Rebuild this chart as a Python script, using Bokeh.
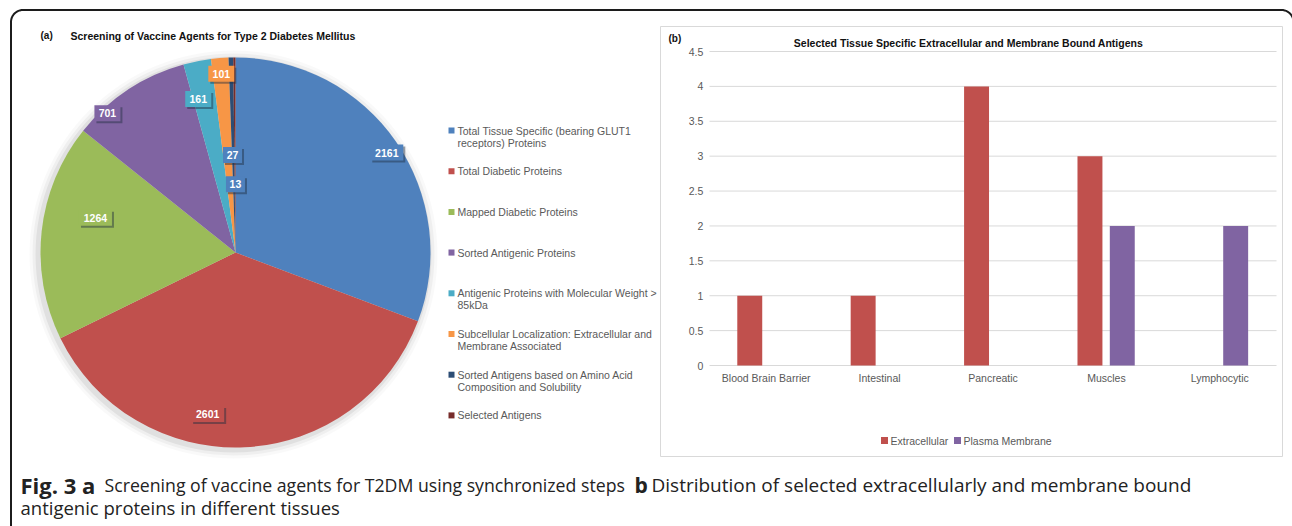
import math
import textwrap
from bokeh.plotting import figure
from bokeh.models import ColumnDataSource, Range1d
from bokeh.core.properties import value
from bokeh.embed import file_html
from bokeh.resources import INLINE

# ---------------- data ----------------
pie_title = "Screening of Vaccine Agents for Type 2 Diabetes Mellitus"
pie_categories = [
    "Total Tissue Specific (bearing GLUT1 receptors) Proteins",
    "Total Diabetic Proteins",
    "Mapped Diabetic Proteins",
    "Sorted Antigenic Proteins",
    "Antigenic Proteins with Molecular Weight > 85kDa",
    "Subcellular Localization: Extracellular and Membrane Associated",
    "Sorted Antigens based on Amino Acid Composition and Solubility",
    "Selected Antigens",
]
pie_values = [2161, 2601, 1264, 701, 161, 101, 27, 13]

bar_title = "Selected Tissue Specific Extracellular and Membrane Bound Antigens"
tissues = ["Blood Brain Barrier", "Intestinal", "Pancreatic", "Muscles", "Lymphocytic"]
series_names = ["Extracellular", "Plasma Membrane"]
extracellular = [1, 1, 4, 3, 0]
plasma_membrane = [0, 0, 0, 2, 2]
y_ticks = [0, 0.5, 1, 1.5, 2, 2.5, 3, 3.5, 4, 4.5]
y_tick_labels = ["0", "0.5", "1", "1.5", "2", "2.5", "3", "3.5", "4", "4.5"]

caption_parts = [
    ("Fig. 3 a", "bold"),
    ("Screening of vaccine agents for T2DM using synchronized steps", "normal"),
    ("b", "bold"),
    ("Distribution of selected extracellularly and membrane bound", "normal"),
]
caption_line2 = "antigenic proteins in different tissues"

# ---------------- styles ----------------
FONT = "Liberation Sans"
CAP_FONT = "Open Sans"
pie_colors = ["#4F81BD", "#C0504D", "#9BBB59", "#8064A2", "#4BACC6", "#F79646", "#2C4D75", "#772C2A"]
label_box_colors = ["#4F81BD", "#C0504D", "#9BBB59", "#8064A2", "#4BACC6", "#F79646", "#4F81BD", "#4F81BD"]
label_r_frac = [0.93, 0.84, 0.74, 0.97, 0.81, 0.92, 0.50, 0.35]
label_dangle = [1.2, 12.5, 7.7, -9.2, -2.3, 0.1, -0.4, 0.3]
bar_colors = ["#C0504D", "#8064A2"]
axis_text = "#595959"
grid_color = "#d9d9d9"
FRAME = "#1c1c1c"
CAP_COLOR = "#222222"

W, H = 1292, 526
# default ranges = canvas pixels (y up); "cat"/"cnt" = bar-chart axes mapped onto its plot area
p = figure(width=W, height=H, x_range=Range1d(0, W), y_range=Range1d(0, H),
           output_backend="svg", toolbar_location=None, min_border=0)
p.axis.visible = False
p.grid.visible = False
p.outline_line_color = None

n_cat = len(tissues)
px_left, px_right = 709.0, 1276.0
py_bottom, py_top = 161.0, 475.0
ymax = y_ticks[-1]
sx = (px_right - px_left) / n_cat
sy = (py_top - py_bottom) / ymax
p.extra_x_ranges = {"cat": Range1d(-px_left / sx, (W - px_left) / sx)}
p.extra_y_ranges = {"cnt": Range1d(-py_bottom / sy, (H - py_bottom) / sy)}

# ---------- outer frame (rounded top corners) ----------
rad = 12
fxl, fxr, fy = 10.5, 1293.0, 516.5
steps = [k * math.pi / 2 / 12 for k in range(13)]
arc_l = [(fxl + rad - rad * math.cos(t), fy - rad + rad * math.sin(t)) for t in steps]
arc_r = [(fxr - rad + rad * math.sin(t), fy - rad + rad * math.cos(t)) for t in steps]
fx_all = [fxl] + [a[0] for a in arc_l] + [a[0] for a in arc_r] + [fxr]
fy_all = [0] + [a[1] for a in arc_l] + [a[1] for a in arc_r] + [0]
p.line(fx_all, fy_all, line_color=FRAME, line_width=2)

# ---------- pie ----------
cx, cy, R = 235, 274, 195
for k, a in [(9, 0.025), (6, 0.04), (3, 0.06)]:
    p.circle(x=cx - 2, y=cy - 2, radius=R + k, fill_color="black", fill_alpha=a, line_color=None)

total = float(sum(pie_values))
starts, ends, mids = [], [], []
acc = 0.0
for v in pie_values:
    starts.append(math.pi / 2 - 2 * math.pi * acc / total)
    mids.append((acc + v / 2.0) / total * 360.0)
    acc += v
    ends.append(math.pi / 2 - 2 * math.pi * acc / total)
p.wedge(x=cx, y=cy, radius=R, start_angle="start", end_angle="end", direction="clock",
        fill_color="color", line_color=None,
        source=ColumnDataSource(dict(start=starts, end=ends, color=pie_colors)))

lx, ly, lw, ltxt = [], [], [], []
for i, v in enumerate(pie_values):
    th = math.radians(mids[i] + label_dangle[i])
    r = label_r_frac[i] * R
    lx.append(cx + r * math.sin(th))
    ly.append(cy + r * math.cos(th))
    lw.append(7 * len(str(v)) + 5)
    ltxt.append(str(v))
lsrc = ColumnDataSource(dict(x=lx, y=ly, xs=[a + 2 for a in lx], ys=[b - 2 for b in ly],
                             w=lw, t=ltxt, c=label_box_colors))
p.rect(x="xs", y="ys", width="w", height=16, fill_color="#1f2d3d", fill_alpha=0.45,
       line_color=None, source=lsrc)
p.rect(x="x", y="y", width="w", height=16, fill_color="c", line_color=None, source=lsrc)
p.text(x="x", y="y", text="t", text_color="white", text_font=value(FONT),
       text_font_style="bold", text_font_size="10.5px", text_align="center",
       text_baseline="middle", source=lsrc)

# pie legend
leg_y = [396 - i * 40.7 for i in range(len(pie_categories))]
p.scatter(x=[451] * len(leg_y), y=leg_y, marker="square", size=6, fill_color=pie_colors,
          line_color=None)
tx, ty, tt = [], [], []
for yy, name in zip(leg_y, pie_categories):
    for j, line in enumerate(textwrap.wrap(name, 43)):
        tx.append(457)
        ty.append(yy - 12 * j)
        tt.append(line)
p.text(x=tx, y=ty, text=tt, text_color=axis_text, text_font=value(FONT),
       text_font_size="10.5px", text_baseline="middle")

p.text(x=[40], y=[491], text=["(a)"], text_font=value(FONT), text_font_style="bold",
       text_font_size="10px", text_baseline="middle", text_color="#111111")
p.text(x=[70], y=[491], text=[pie_title], text_font=value(FONT), text_font_style="bold",
       text_font_size="10.5px", text_baseline="middle", text_color="#111111")

# ---------- bar chart ----------
p.quad(left=[660], right=[1282], top=[500], bottom=[70], fill_color=None,
       line_color=grid_color, line_width=1)
p.text(x=[668], y=[488], text=["(b)"], text_font=value(FONT), text_font_style="bold",
       text_font_size="10px", text_baseline="middle", text_color="#111111")
p.text(x=[968], y=[484], text=[bar_title], text_font=value(FONT), text_font_style="bold",
       text_font_size="10.5px", text_baseline="middle", text_align="center", text_color="#111111")

p.segment(x0=[0] * len(y_ticks), x1=[n_cat] * len(y_ticks), y0=y_ticks, y1=y_ticks,
          line_color=grid_color, line_width=1, x_range_name="cat", y_range_name="cnt")
p.text(x=[-0.055] * len(y_ticks), y=y_ticks, text=y_tick_labels, text_align="right",
       text_baseline="middle", text_font=value(FONT), text_font_size="10.5px",
       text_color=axis_text, x_range_name="cat", y_range_name="cnt")

centers = [i + 0.5 for i in range(n_cat)]
bsrc = ColumnDataSource(dict(xe=[c - 0.145 for c in centers], xp=[c + 0.14 for c in centers],
                             ext=extracellular, pm=plasma_membrane))
p.vbar(x="xe", top="ext", bottom=0, width=0.22, fill_color=bar_colors[0], line_color=None,
       source=bsrc, x_range_name="cat", y_range_name="cnt")
p.vbar(x="xp", top="pm", bottom=0, width=0.22, fill_color=bar_colors[1], line_color=None,
       source=bsrc, x_range_name="cat", y_range_name="cnt")
p.text(x=centers, y=[-0.095] * n_cat, text=tissues, text_align="center", text_baseline="top",
       text_font=value(FONT), text_font_size="10.5px", text_color=axis_text,
       x_range_name="cat", y_range_name="cnt")

# bar legend
p.scatter(x=[884, 957], y=[86, 86], marker="square", size=7, fill_color=bar_colors, line_color=None)
p.text(x=[890, 963], y=[86, 86], text=series_names, text_baseline="middle",
       text_font=value(FONT), text_font_size="10.5px", text_color=axis_text)

# ---------- caption ----------
cap_x = [20, 104, 634, 651]
cap_size = ["22px", "17.7px", "21px", "19px"]
for (txt, style), x, fs in zip(caption_parts, cap_x, cap_size):
    p.text(x=[x], y=[42], text=[txt], text_font=value(CAP_FONT), text_font_style=style,
           text_font_size=fs, text_color=CAP_COLOR, text_baseline="alphabetic")
p.text(x=[20], y=[19], text=[caption_line2], text_font=value(CAP_FONT),
       text_font_size="18.5px", text_color=CAP_COLOR, text_baseline="alphabetic")

open("out.html", "w").write(file_html(p, INLINE))
